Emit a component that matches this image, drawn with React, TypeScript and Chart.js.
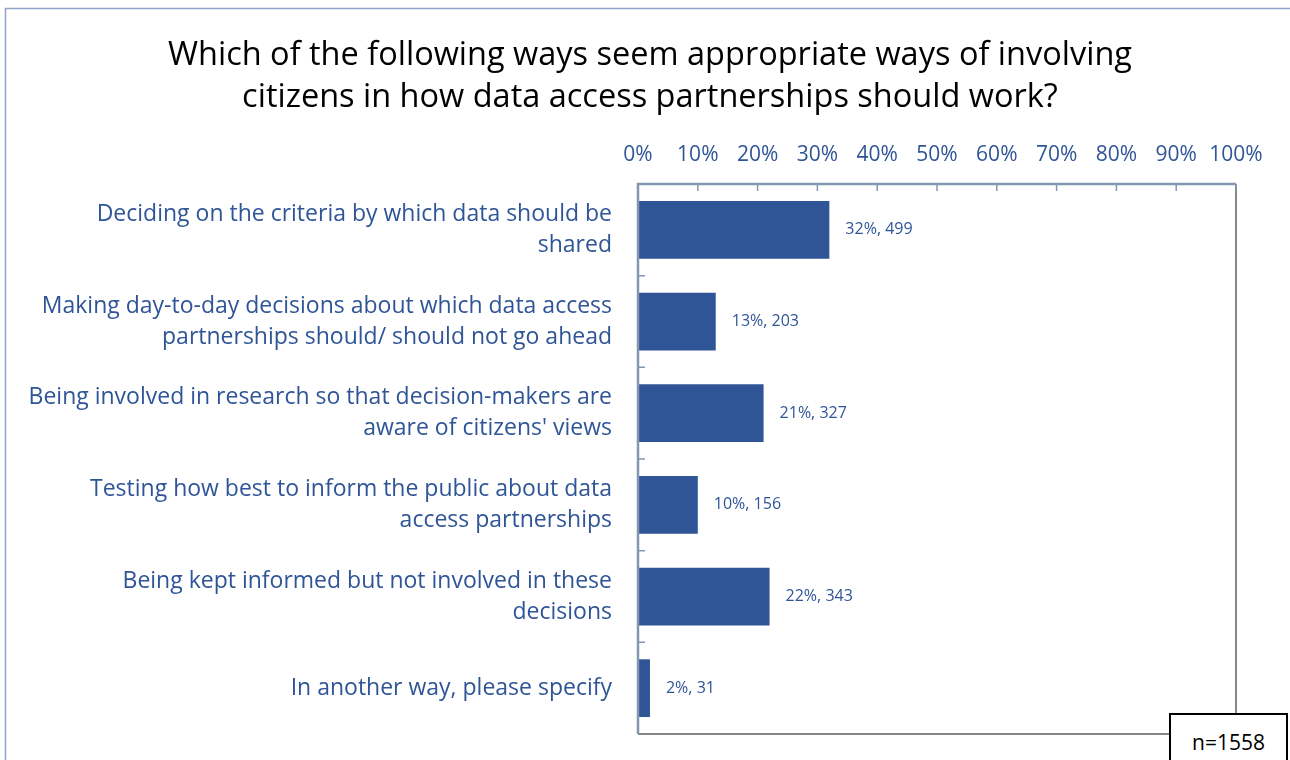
import React, { useEffect, useRef } from "react";
import { Chart, registerables } from "chart.js";
Chart.register(...registerables);

const titleLines = [
  "Which of the following ways seem appropriate ways of involving",
  "citizens in how data access partnerships should work?",
];
const categories: string[][] = [
  ["Deciding on the criteria by which data should be", "shared"],
  ["Making day-to-day decisions about which data access", "partnerships should/ should not go ahead"],
  ["Being involved in research so that decision-makers are", "aware of citizens' views"],
  ["Testing how best to inform the public about data", "access partnerships"],
  ["Being kept informed but not involved in these", "decisions"],
  ["In another way, please specify"],
];
const percents = [32.0, 13.0, 21.0, 10.0, 22.0, 2.0];
const counts = [499, 203, 327, 156, 343, 31];
const pctLabels = ["32%", "13%", "21%", "10%", "22%", "2%"];
const xTickValues = [0, 10, 20, 30, 40, 50, 60, 70, 80, 90, 100];
const sampleNote = "n=1558";

const FONT = "'Open Sans', sans-serif";
const BLUE = "#2F5597";
const AXIS = "#8497B0";
const BORDER_GRAY = "#868686";

const decorPlugin = {
  id: "decor",
  beforeDraw(chart: any) {
    const ctx = chart.ctx;
    ctx.save();
    ctx.strokeStyle = "#8EA3C6";
    ctx.lineWidth = 1.5;
    ctx.strokeRect(5.5, 8.5, 1300, 800);
    ctx.restore();
  },
  afterDatasetsDraw(chart: any) {
    const ctx = chart.ctx;
    const a = chart.chartArea;
    const xs = chart.scales.x;
    const ys = chart.scales.y;
    ctx.save();
    ctx.strokeStyle = BORDER_GRAY;
    ctx.lineWidth = 2;
    ctx.beginPath();
    ctx.moveTo(a.right, a.top);
    ctx.lineTo(a.right, a.bottom);
    ctx.lineTo(a.left, a.bottom);
    ctx.stroke();
    ctx.strokeStyle = AXIS;
    ctx.lineWidth = 2.5;
    ctx.beginPath();
    ctx.moveTo(a.right, a.top);
    ctx.lineTo(a.left, a.top);
    ctx.lineTo(a.left, a.bottom);
    ctx.stroke();
    ctx.lineWidth = 1.5;
    ctx.beginPath();
    xTickValues.forEach((v) => {
      const px = xs.getPixelForValue(v);
      ctx.moveTo(px, a.top);
      ctx.lineTo(px, a.top + 7);
    });
    for (let i = 1; i < categories.length; i++) {
      const py = (ys.getPixelForValue(i - 1) + ys.getPixelForValue(i)) / 2;
      ctx.moveTo(a.left, py);
      ctx.lineTo(a.left + 7, py);
    }
    ctx.stroke();
    const meta = chart.getDatasetMeta(0);
    ctx.fillStyle = BLUE;
    ctx.font = `16px ${FONT}`;
    ctx.textAlign = "left";
    ctx.textBaseline = "middle";
    meta.data.forEach((el: any, i: number) => {
      ctx.fillText(`${pctLabels[i]}, ${counts[i]}`, el.x + 16, el.y);
    });
    ctx.restore();
  },
};

export default function App() {
  const ref = useRef<HTMLCanvasElement>(null);
  useEffect(() => {
    if (!ref.current) return;
    const chart = new Chart(ref.current, {
      type: "bar",
      data: {
        labels: categories,
        datasets: [
          {
            data: percents,
            backgroundColor: BLUE,
            borderWidth: 0,
            barPercentage: 0.63,
            categoryPercentage: 1,
          },
        ],
      },
      options: {
        indexAxis: "y",
        animation: false,
        responsive: false,
        layout: { padding: { top: 118, left: 5, right: 54, bottom: 26 } },
        plugins: {
          legend: { display: false },
          tooltip: { enabled: false },
          title: { display: false },
        },
        scales: {
          x: {
            position: "top",
            min: 0,
            max: 100,
            afterBuildTicks(scale: any) {
              scale.ticks = xTickValues.map((v) => ({ value: v }));
            },
            afterFit(scale: any) {
              scale.height = 66;
              scale.paddingLeft = 0;
              scale.paddingRight = 0;
            },
            grid: { display: false, drawTicks: false },
            border: { display: false },
            ticks: {
              color: BLUE,
              font: { family: FONT, size: 21 },
              padding: 16,
              maxRotation: 0,
              autoSkip: false,
              callback: (v: any) => `${v}%`,
            },
          },
          y: {
            afterFit(scale: any) {
              scale.width = 633;
              scale.paddingTop = 0;
              scale.paddingBottom = 0;
            },
            grid: { display: false, drawTicks: false },
            border: { display: false },
            ticks: {
              color: BLUE,
              font: { family: FONT, size: 23, lineHeight: 1.35 },
              padding: 26,
              autoSkip: false,
            },
          },
        },
      },
      plugins: [decorPlugin],
    });
    return () => chart.destroy();
  }, []);
  return (
    <div style={{ position: "fixed", left: 0, top: 0, width: 1290, height: 760, background: "#fff", overflow: "hidden" }}>
      <canvas ref={ref} width={1290} height={760} style={{ display: "block" }} />
      <div
        style={{
          position: "absolute",
          left: 0,
          top: 32,
          width: 1300,
          textAlign: "center",
          fontFamily: FONT,
          fontSize: 32.5,
          lineHeight: "42px",
          color: "#000",
        }}
      >
        {titleLines.map((t, i) => (
          <div key={i}>{t}</div>
        ))}
      </div>
      <div
        style={{
          position: "absolute",
          left: 1169,
          top: 713,
          width: 119,
          height: 60,
          border: "2px solid #000",
          background: "#fff",
          fontFamily: FONT,
          fontSize: 21,
          color: "#000",
          textAlign: "center",
          paddingTop: 13,
          lineHeight: "28px",
          boxSizing: "border-box",
        }}
      >
        {sampleNote}
      </div>
    </div>
  );
}
